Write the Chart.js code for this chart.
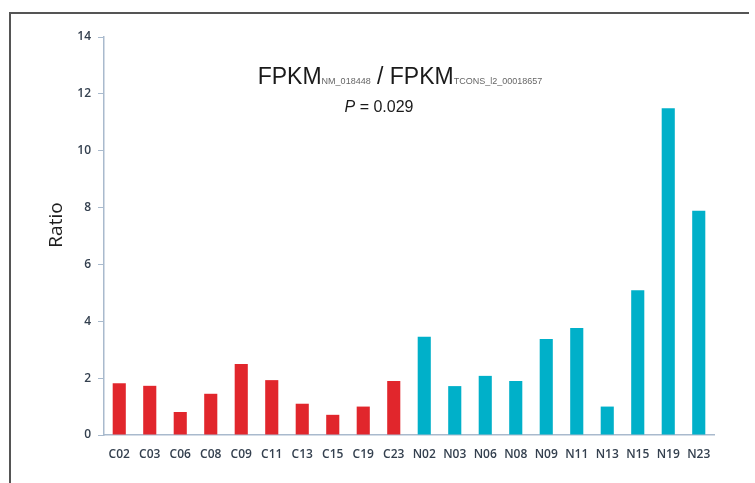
<!DOCTYPE html>
<html>
<head>
<meta charset="utf-8">
<script src="https://cdn.jsdelivr.net/npm/chart.js@4"></script>
<style>
  html, body { margin: 0; padding: 0; background: #fff; }
  #wrap { width: 755px; height: 483px; position: relative; }
</style>
</head>
<body>
<div id="wrap"><canvas id="chart"></canvas></div>
<script>
// Amostras (tumor C / normal N) e razão FPKM
const categories = ['C02', 'C03', 'C06', 'C08', 'C09', 'C11', 'C13', 'C15', 'C19', 'C23',
                    'N02', 'N03', 'N06', 'N08', 'N09', 'N11', 'N13', 'N15', 'N19', 'N23'];
const ratioValues = [1.82, 1.73, 0.81, 1.45, 2.5, 1.93, 1.1, 0.71, 1.0, 1.9,
                     3.46, 1.72, 2.08, 1.9, 3.38, 3.76, 1.0, 5.09, 11.49, 7.89];
const yTicks = [0, 2, 4, 6, 8, 10, 12, 14];
const pValueText = '0.029';

const redColor = '#e1262c';
const blueColor = '#00b0c9';
const barColors = categories.map(c => c.startsWith('C') ? redColor : blueColor);
const axisColor = '#a9bacd';
const tickColor = '#34404f';

// moldura, rótulo do eixo e título com subscritos desenhados à mão
const decorPlugin = {
    id: 'decor',
    beforeDraw(chart) {
        const ctx = chart.ctx;
        ctx.save();
        ctx.strokeStyle = '#555';
        ctx.lineWidth = 2;
        ctx.beginPath();
        ctx.moveTo(10, 483);
        ctx.lineTo(10, 13);
        ctx.lineTo(749, 13);
        ctx.stroke();
        ctx.restore();
    },
    afterDraw(chart) {
        const ctx = chart.ctx;
        ctx.save();
        const big = '23px "Liberation Sans", Arial, sans-serif';
        const small = '9px "Liberation Sans", Arial, sans-serif';
        const parts = [
            { t: 'FPKM', f: big, c: '#1a1a1a' },
            { t: 'NM_018448', f: small, c: '#666' },
            { t: ' / FPKM', f: big, c: '#1a1a1a' },
            { t: 'TCONS_l2_00018657', f: small, c: '#666' }
        ];
        let total = 0;
        parts.forEach(p => { ctx.font = p.f; p.w = ctx.measureText(p.t).width; total += p.w; });
        let x = 400 - total / 2;
        const baseline = 84;
        ctx.textBaseline = 'alphabetic';
        ctx.textAlign = 'left';
        parts.forEach(p => {
            ctx.font = p.f;
            ctx.fillStyle = p.c;
            ctx.fillText(p.t, x, baseline);
            x += p.w;
        });

        const pFont = 'italic 16px "Liberation Sans", Arial, sans-serif';
        const rFont = '16px "Liberation Sans", Arial, sans-serif';
        const rest = ' = ' + pValueText;
        ctx.font = pFont; const w1 = ctx.measureText('P').width;
        ctx.font = rFont; const w2 = ctx.measureText(rest).width;
        let px = 379 - (w1 + w2) / 2;
        ctx.fillStyle = '#1a1a1a';
        ctx.font = pFont; ctx.fillText('P', px, 112);
        ctx.font = rFont; ctx.fillText(rest, px + w1, 112);

        // rótulo "Ratio"
        ctx.translate(57, 225);
        ctx.rotate(-Math.PI / 2);
        ctx.textAlign = 'center';
        ctx.textBaseline = 'middle';
        ctx.font = '19px "Open Sans", sans-serif';
        ctx.fillStyle = '#1e1e1e';
        ctx.fillText('Ratio', 0, 0);
        ctx.restore();
    }
};

new Chart(document.getElementById('chart'), {
    type: 'bar',
    data: {
        labels: categories,
        datasets: [{
            data: ratioValues,
            backgroundColor: barColors,
            barPercentage: 0.43,
            categoryPercentage: 1.0
        }]
    },
    options: {
        responsive: true,
        maintainAspectRatio: false,
        animation: false,
        layout: { padding: { left: 0, right: 41, top: 37, bottom: 0 } },
        scales: {
            x: {
                grid: { drawOnChartArea: false, drawTicks: false },
                border: { color: axisColor, width: 1.5 },
                ticks: {
                    color: tickColor,
                    padding: 12,
                    maxRotation: 0,
                    autoSkip: false,
                    font: { family: '"Open Sans"', size: 12, weight: '600' }
                },
                afterFit: s => { s.height = 48; }
            },
            y: {
                min: 0,
                max: 14,
                afterBuildTicks: s => { s.ticks = yTicks.map(v => ({ value: v })); },
                grid: { drawOnChartArea: false, drawTicks: true, tickLength: 6, color: axisColor },
                border: { color: axisColor, width: 1.5 },
                ticks: {
                    color: tickColor,
                    padding: 7,
                    font: { family: '"Open Sans"', size: 12, weight: '600' }
                },
                afterFit: s => { s.width = 104; }
            }
        },
        plugins: {
            legend: { display: false },
            tooltip: { enabled: false }
        }
    },
    plugins: [decorPlugin]
});
</script>
</body>
</html>
